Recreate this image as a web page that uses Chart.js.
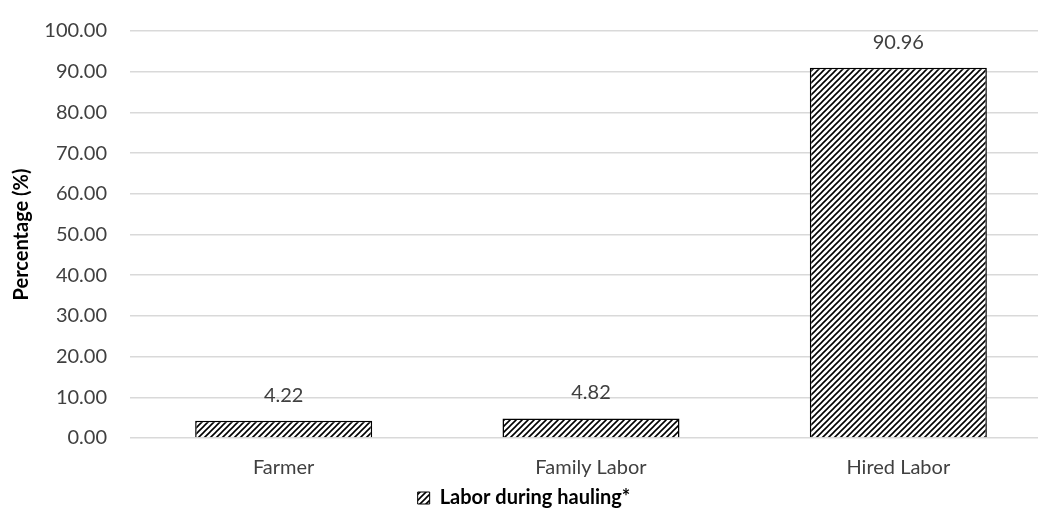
<!DOCTYPE html>
<html><head><meta charset="utf-8">
<script src="https://cdn.jsdelivr.net/npm/chart.js@4/dist/chart.umd.min.js"></script>
<style>html,body{margin:0;padding:0;background:#fff;overflow:hidden}#wrap{width:1038px;height:528px;overflow:hidden}</style>
</head><body><div id="wrap"><canvas id="c" width="1052" height="528"></canvas></div>
<script>
const categories = ["Farmer", "Family Labor", "Hired Labor"];
const values = [4.22, 4.82, 90.96];
const seriesName = "Labor during hauling*";
const yTicks = [0,10,20,30,40,50,60,70,80,90,100];

function makePattern(){
  const s = 6;
  const p = document.createElement('canvas'); p.width = s; p.height = s;
  const g = p.getContext('2d');
  g.fillStyle = '#fff'; g.fillRect(0,0,s,s);
  g.strokeStyle = '#000'; g.lineWidth = 1.6;
  g.beginPath();
  g.moveTo(0,s); g.lineTo(s,0);
  g.moveTo(-s/2,s/2); g.lineTo(s/2,-s/2);
  g.moveTo(s/2,s*1.5); g.lineTo(s*1.5,s/2);
  g.stroke();
  return document.getElementById('c').getContext('2d').createPattern(p,'repeat');
}
const pat = makePattern();
const FONT = "Lato, 'Open Sans', sans-serif";

const labelPlugin = {
  id:'vals',
  afterLayout(chart){
    if (chart.legend){ chart.legend.left -= 7; chart.legend.right -= 7; }
  },
  afterDatasetsDraw(chart){
    const ctx = chart.ctx;
    const meta = chart.getDatasetMeta(0);
    ctx.save();
    ctx.font = "20px " + FONT;
    ctx.fillStyle = '#404040';
    ctx.textAlign = 'center';
    ctx.textBaseline = 'alphabetic';
    meta.data.forEach((b,i)=>{
      ctx.fillText(values[i].toFixed(2), b.x, b.y - 19);
    });
    ctx.restore();
  }
};

new Chart(document.getElementById('c'), {
  type:'bar',
  data:{labels:categories, datasets:[{label:seriesName, data:values, backgroundColor:pat, borderColor:'#000', borderWidth:1.5, categoryPercentage:1, barPercentage:0.576}]},
  options:{
    responsive:false, animation:false,
    layout:{padding:{top:31,right:0,left:10,bottom:10}},
    plugins:{
      legend:{position:'bottom', labels:{font:{family:FONT,size:20,weight:'bold'}, color:'#000', boxWidth:12, boxHeight:12, padding:8,
        generateLabels(chart){return [{text:seriesName, fillStyle:pat, strokeStyle:'#000', lineWidth:1, datasetIndex:0}];}}},
      tooltip:{enabled:false}
    },
    scales:{
      x:{grid:{display:false, drawTicks:false, tickLength:0}, border:{display:false}, ticks:{font:{family:FONT,size:20}, color:'#404040', padding:18},
        afterFit(s){ s.height = 42; s.paddingLeft = 0; s.paddingRight = 0; }},
      y:{min:0,max:100, afterBuildTicks(a){a.ticks = yTicks.map(v=>({value:v}));},
        ticks:{font:{family:FONT,size:20}, color:'#404040', padding:23, callback:v=>Number(v).toFixed(2)},
        grid:{color:'#d9d9d9', lineWidth:1.5, drawTicks:false, tickLength:0}, border:{display:false},
        title:{display:true, text:'Percentage (%)', font:{family:FONT,size:20,weight:'bold'}, color:'#000', padding:{top:0,bottom:0}},
        afterFit(s){ s.width = 120; s.paddingTop = 0; s.paddingBottom = 0; }}
    }
  },
  plugins:[labelPlugin]
});
</script></body></html>
